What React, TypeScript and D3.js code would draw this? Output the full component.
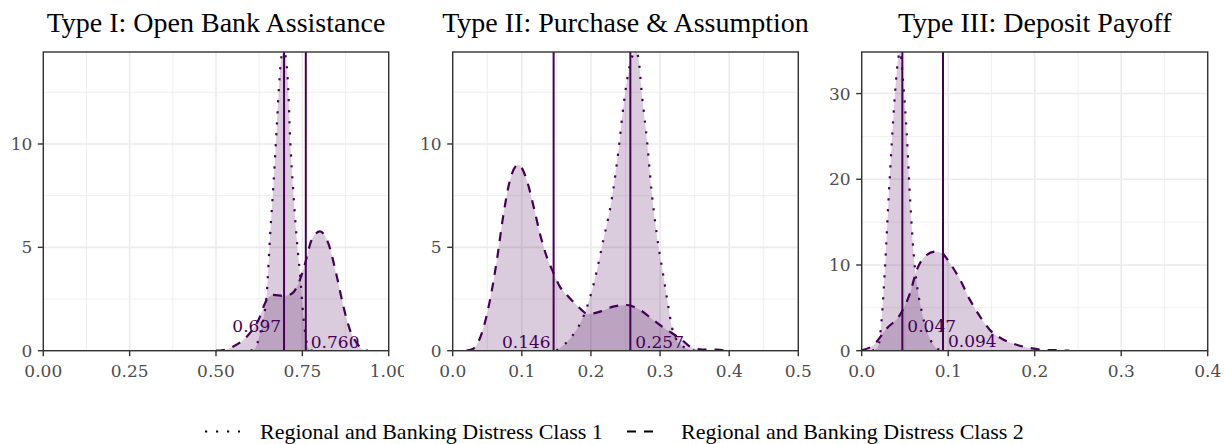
import React from 'react';
import * as d3 from 'd3';

// ---------- data ----------
const panelTitles = [
  'Type I: Open Bank Assistance',
  'Type II: Purchase & Assumption',
  'Type III: Deposit Payoff',
];
const seriesNames = [
  'Regional and Banking Distress Class 1',
  'Regional and Banking Distress Class 2',
];
const xDomains: [number, number][] = [[0, 1], [0, 0.5], [0, 0.4]];
const xTicks = [
  [0, 0.25, 0.5, 0.75, 1.0],
  [0, 0.1, 0.2, 0.3, 0.4, 0.5],
  [0, 0.1, 0.2, 0.3, 0.4],
];
const xMinor = [
  [0.125, 0.375, 0.625, 0.875],
  [0.05, 0.15, 0.25, 0.35, 0.45],
  [0.05, 0.15, 0.25, 0.35],
];
const xTickFormats = ['.2f', '.1f', '.1f'];
const yTicks = [[0, 5, 10], [0, 5, 10], [0, 10, 20, 30]];
const yMinor = [[2.5, 7.5, 12.5], [2.5, 7.5, 12.5], [5, 15, 25]];

// Type I
const typeIClass1X = [0.6, 0.613, 0.628, 0.637, 0.647, 0.657, 0.666, 0.676, 0.683, 0.69, 0.697, 0.705, 0.71, 0.714, 0.724, 0.734, 0.743, 0.753, 0.763, 0.772, 0.78];
const typeIClass1Y = [0, 0.11, 0.84, 1.49, 2.78, 5.69, 7.95, 10.85, 12.95, 14.25, 14.45, 13.76, 12.3, 10.53, 7.63, 5.36, 3.75, 1.65, 0.36, 0.03, 0];
const typeIClass2X = [0.5, 0.517, 0.55, 0.589, 0.623, 0.647, 0.666, 0.695, 0.719, 0.743, 0.758, 0.777, 0.801, 0.825, 0.85, 0.869, 0.888, 0.912, 0.927, 0.94];
const typeIClass2Y = [0, 0.02, 0.2, 0.68, 1.49, 2.46, 2.7, 2.65, 2.75, 3.43, 4.23, 5.36, 5.77, 5.2, 3.58, 2.13, 1.0, 0.27, 0.03, 0];
// Type II
const typeIIClass1X = [0.15, 0.158, 0.174, 0.191, 0.203, 0.218, 0.23, 0.24, 0.247, 0.254, 0.261, 0.265, 0.269, 0.273, 0.281, 0.288, 0.295, 0.305, 0.312, 0.317, 0.324, 0.339, 0.35];
const typeIIClass1Y = [0, 0.2, 0.76, 1.81, 3.1, 5.36, 7.3, 9.73, 11.82, 13.44, 14.33, 14.45, 14.1, 12.63, 10.2, 7.63, 5.69, 3.58, 2.13, 1.16, 0.52, 0.1, 0];
const typeIIClass2X = [0.02, 0.03, 0.042, 0.054, 0.064, 0.073, 0.083, 0.095, 0.107, 0.117, 0.126, 0.136, 0.146, 0.155, 0.165, 0.179, 0.196, 0.213, 0.232, 0.252, 0.271, 0.29, 0.31, 0.329, 0.348, 0.367, 0.382, 0.395];
const typeIIClass2Y = [0, 0.1, 0.84, 2.46, 4.4, 6.5, 8.27, 9.0, 8.27, 6.98, 5.69, 4.55, 3.75, 3.1, 2.7, 2.21, 1.78, 1.89, 2.13, 2.21, 1.97, 1.49, 1.0, 0.6, 0.12, 0.05, 0.05, 0];
// Type III
const typeIIIClass1X = [0.012, 0.019, 0.023, 0.027, 0.031, 0.035, 0.0385, 0.0423, 0.0445, 0.048, 0.052, 0.056, 0.06, 0.0636, 0.069, 0.075, 0.083, 0.0905, 0.1];
const typeIIIClass1Y = [0, 0.47, 3.58, 9.8, 17.6, 24.6, 30.0, 34.1, 34.85, 31.2, 25.4, 17.6, 11.4, 7.86, 4.75, 2.4, 0.66, 0.1, 0];
const typeIIIClass2X = [0.0, 0.0136, 0.029, 0.0443, 0.0558, 0.0636, 0.0732, 0.0847, 0.0924, 0.102, 0.1136, 0.125, 0.1367, 0.148, 0.164, 0.179, 0.195, 0.21, 0.226, 0.24];
const typeIIIClass2Y = [0.05, 0.66, 2.6, 4.2, 6.7, 9.4, 11.0, 11.55, 11.4, 10.2, 8.3, 5.96, 4.0, 2.45, 1.28, 0.7, 0.3, 0.1, 0.06, 0];

const class1Means = [0.697, 0.257, 0.047];
const class2Means = [0.76, 0.146, 0.094];
const class1LabelY = [0.92, 0.13, 2.2];
const class2LabelY = [0.13, 0.13, 0.43];
const class1LabelSide = ['left', 'right', 'right'];
const class2LabelSide = ['right', 'left', 'right'];

// ---------- layout / style ----------
const W = 1224;
const H = 444;
const PANEL_TOP = 52;
const PANEL_BOTTOM = 350.7;
const panelLefts = [43.3, 452.7, 861.7];
const panelRights = [388.7, 798.3, 1207.7];
const cellEdges = [0, 404, 813, 1224];
const PURPLE = '#440154';
const SERIF = '"Liberation Serif", "Times New Roman", serif';
const TICKFONT = '"DejaVu Serif", serif';
const dashStyles = ['2.2 8.8', '9 8'];

const panelData = [
  [[typeIClass1X, typeIClass1Y], [typeIClass2X, typeIClass2Y]],
  [[typeIIClass1X, typeIIClass1Y], [typeIIClass2X, typeIIClass2Y]],
  [[typeIIIClass1X, typeIIIClass1Y], [typeIIIClass2X, typeIIIClass2Y]],
];

function Panel({ i }: { i: number }) {
  const series = panelData[i].map(([xs, ys]) => xs.map((x, k) => [x, ys[k]] as [number, number]));
  const yMax = d3.max(series.flat(), (d) => d[1]) as number;
  const x = d3.scaleLinear().domain(xDomains[i]).range([panelLefts[i], panelRights[i]]);
  const y = d3.scaleLinear().domain([0, yMax]).range([PANEL_BOTTOM, PANEL_TOP]);
  const area = d3.area<[number, number]>().x((d) => x(d[0])).y0(y(0)).y1((d) => y(d[1])).curve(d3.curveMonotoneX);
  const line = d3.line<[number, number]>().x((d) => x(d[0])).y((d) => y(d[1])).curve(d3.curveMonotoneX);
  const fmt = d3.format(xTickFormats[i]);
  const lbl = d3.format('.3f');
  const means = [class1Means[i], class2Means[i]];
  const labY = [class1LabelY[i], class2LabelY[i]];
  const sides = [class1LabelSide[i], class2LabelSide[i]];
  const cx = (panelLefts[i] + panelRights[i]) / 2;
  const clipId = `cell${i}`;
  const pclip = `pclip${i}`;
  return (
    <g clipPath={`url(#${clipId})`}>
      <defs>
        <clipPath id={clipId}>
          <rect x={cellEdges[i]} y={0} width={cellEdges[i + 1] - cellEdges[i]} height={H} />
        </clipPath>
        <clipPath id={pclip}>
          <rect x={panelLefts[i]} y={PANEL_TOP} width={panelRights[i] - panelLefts[i]} height={PANEL_BOTTOM - PANEL_TOP} />
        </clipPath>
      </defs>
      <rect x={cellEdges[i]} y={0} width={cellEdges[i + 1] - cellEdges[i]} height={H} fill="#fff" />
      <text x={cx} y={32} textAnchor="middle" fontFamily={SERIF} fontSize={28} fill="#000">
        {panelTitles[i]}
      </text>
      {xMinor[i].map((v) => (
        <line key={'xm' + v} x1={x(v)} x2={x(v)} y1={PANEL_TOP} y2={PANEL_BOTTOM} stroke="#ebebeb" strokeWidth={0.8} />
      ))}
      {yMinor[i].map((v) => (
        <line key={'ym' + v} x1={panelLefts[i]} x2={panelRights[i]} y1={y(v)} y2={y(v)} stroke="#ebebeb" strokeWidth={0.8} />
      ))}
      {xTicks[i].map((v) => (
        <line key={'xM' + v} x1={x(v)} x2={x(v)} y1={PANEL_TOP} y2={PANEL_BOTTOM} stroke="#ebebeb" strokeWidth={1.6} />
      ))}
      {yTicks[i].map((v) => (
        <line key={'yM' + v} x1={panelLefts[i]} x2={panelRights[i]} y1={y(v)} y2={y(v)} stroke="#ebebeb" strokeWidth={1.6} />
      ))}
      <g clipPath={`url(#${pclip})`}>
        {series.map((s, k) => (
          <path key={'a' + k} d={area(s) as string} fill={PURPLE} fillOpacity={0.2} stroke="none" />
        ))}
        {series.map((s, k) => (
          <path key={'l' + k} d={line(s) as string} fill="none" stroke={PURPLE} strokeWidth={2.2} strokeDasharray={dashStyles[k]} />
        ))}
        {means.map((m, k) => (
          <line key={'v' + k} x1={x(m)} x2={x(m)} y1={PANEL_TOP} y2={PANEL_BOTTOM} stroke={PURPLE} strokeWidth={2} />
        ))}
      </g>
      {means.map((m, k) => (
        <text
          key={'t' + k}
          x={x(m) + (sides[k] === 'left' ? -3 : 5)}
          y={y(labY[k])}
          textAnchor={sides[k] === 'left' ? 'end' : 'start'}
          fontFamily={TICKFONT}
          fontSize={17}
          fill={PURPLE}
        >
          {lbl(m)}
        </text>
      ))}
      <rect x={panelLefts[i]} y={PANEL_TOP} width={panelRights[i] - panelLefts[i]} height={PANEL_BOTTOM - PANEL_TOP} fill="none" stroke="#333" strokeWidth={1.4} />
      {xTicks[i].map((v) => (
        <g key={'xt' + v}>
          <line x1={x(v)} x2={x(v)} y1={PANEL_BOTTOM} y2={PANEL_BOTTOM + 5.5} stroke="#333" strokeWidth={1.4} />
          <text x={x(v)} y={PANEL_BOTTOM + 26.3} textAnchor="middle" fontFamily={TICKFONT} fontSize={17} fill="#4d4d4d">
            {fmt(v)}
          </text>
        </g>
      ))}
      {yTicks[i].map((v) => (
        <g key={'yt' + v}>
          <line x1={panelLefts[i] - 5.5} x2={panelLefts[i]} y1={y(v)} y2={y(v)} stroke="#333" strokeWidth={1.4} />
          <text x={panelLefts[i] - 11} y={y(v)} dy="0.36em" textAnchor="end" fontFamily={TICKFONT} fontSize={17} fill="#4d4d4d">
            {v}
          </text>
        </g>
      ))}
    </g>
  );
}

const legendKeyX = [205, 627];
const legendKeyW = [35, 27];
const legendTextX = [260, 681];
const LEGEND_BASE = 439;

export default function App() {
  return (
    <svg width={W} height={H} style={{ position: 'absolute', left: 0, top: 0, background: '#fff' }}>
      <rect x={0} y={0} width={W} height={H} fill="#fff" />
      {[0, 1, 2].map((i) => (
        <Panel key={i} i={i} />
      ))}
      {seriesNames.map((name, k) => (
        <g key={name}>
          <line
            x1={legendKeyX[k]}
            x2={legendKeyX[k] + legendKeyW[k]}
            y1={LEGEND_BASE - 7.5}
            y2={LEGEND_BASE - 7.5}
            stroke="#000"
            strokeWidth={2.2}
            strokeDasharray={dashStyles[k]}
          />
          <text x={legendTextX[k]} y={LEGEND_BASE} fontFamily={SERIF} fontSize={22} fill="#000">
            {name}
          </text>
        </g>
      ))}
    </svg>
  );
}
